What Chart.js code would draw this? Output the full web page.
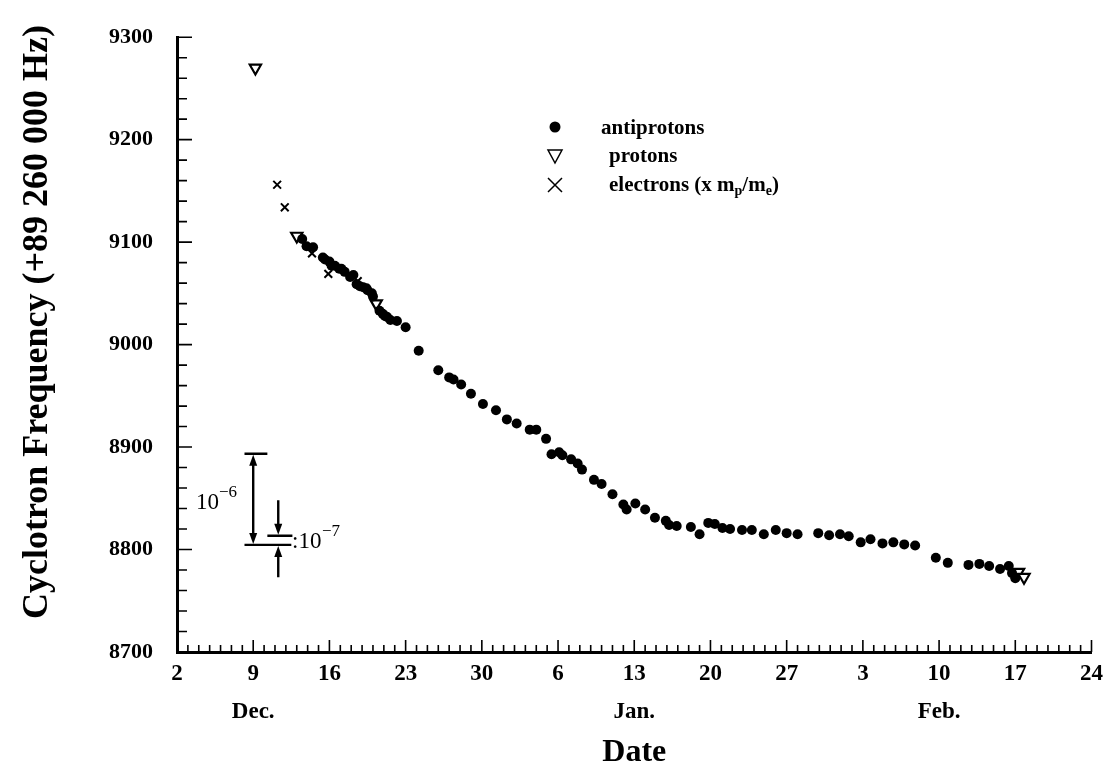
<!DOCTYPE html>
<html>
<head>
<meta charset="utf-8">
<script src="https://cdn.jsdelivr.net/npm/chart.js@4.4.0/dist/chart.umd.min.js"></script>
<style>
  html, body { margin: 0; padding: 0; background: #fff; }
</style>
</head>
<body>
<canvas id="chart" width="1111" height="776"></canvas>
<script>
const SERIF = "'Liberation Serif', 'DejaVu Serif', serif";

// x = days counted from Dec. 2, y = frequency - 89 260 000 Hz
const antiDays = [11.5, 11.9, 12.5, 13.4, 13.6, 14.0, 14.2, 14.5, 14.9, 15.1, 15.4, 15.9, 16.2, 16.5, 16.8, 17.1, 17.4, 17.5, 17.9, 18.0,
  18.6, 18.9, 19.1, 19.3, 19.6, 20.2, 21.0, 22.2, 24.0, 25.0, 25.4, 26.1, 27.0, 28.1, 29.3, 30.3, 31.2, 32.4, 33.0, 33.9,
  34.4, 35.1, 35.4, 36.2, 36.8, 37.2, 38.3, 39.0, 40.0, 41.0, 41.3, 42.1, 43.0, 43.9, 44.9, 45.2, 45.9, 47.2, 48.0, 48.8,
  49.4, 50.1, 50.8, 51.9, 52.8, 53.9, 55.0, 56.0, 57.0, 58.9, 59.9, 60.9, 61.7, 62.8, 63.7, 64.8, 65.8, 66.8, 67.8, 69.7,
  70.8, 72.7, 73.7, 74.6, 75.6, 76.4, 76.7, 77.0];
const antiFreq = [9103, 9096, 9095, 9085, 9083, 9081, 9077, 9077, 9074, 9074, 9071, 9066, 9068, 9059, 9057, 9056, 9055, 9053, 9050, 9047,
  9033, 9030, 9028, 9027, 9024, 9023, 9017, 8994, 8975, 8968, 8966, 8961, 8952, 8942, 8936, 8927, 8923, 8917, 8917, 8908,
  8893, 8895, 8892, 8888, 8884, 8878, 8868, 8864, 8854, 8844, 8839, 8845, 8839, 8831, 8828, 8824, 8823, 8822, 8815, 8826,
  8825, 8821, 8820, 8819, 8819, 8815, 8819, 8816, 8815, 8816, 8814, 8815, 8813, 8807, 8810, 8806, 8807, 8805, 8804, 8792,
  8787, 8785, 8786, 8784, 8781, 8784, 8777, 8772];

const protonDays = [7.2, 11.0, 18.3, 77.3, 77.8];
const protonFreq = [9270, 9106, 9040, 8778, 8773];

const electronDays = [9.2, 9.9, 12.4, 13.9, 16.6];
const electronFreq = [9156, 9134, 9089, 9069, 9062];

const weekLabels = ['2', '9', '16', '23', '30', '6', '13', '20', '27', '3', '10', '17', '24'];
const monthNames = ['Dec.', 'Jan.', 'Feb.'];
const monthDays = [7, 42, 70];

// 10^-6 and 10^-7 scale marks (in Hz above the offset)
const ppm = [8804.5, 8893.5];
const ppb = [8804.5, 8813.4];

const yTitle = 'Cyclotron Frequency (+89 260 000 Hz)';

const toPts = (xs, ys) => xs.map((x, i) => ({ x, y: ys[i] }));

// ticks pointing into the plot, month names, y title
const axisExtras = {
  id: 'axisExtras',
  afterDraw(chart) {
    const { ctx, chartArea, scales: { x, y } } = chart;
    ctx.save();
    ctx.strokeStyle = '#000';
    ctx.lineWidth = 1.6;
    ctx.beginPath();
    for (let d = 0; d <= 84; d++) {
      const px = x.getPixelForValue(d);
      const len = d % 7 === 0 ? 12 : 7;
      ctx.moveTo(px, chartArea.bottom);
      ctx.lineTo(px, chartArea.bottom - len);
    }
    for (let v = 8700; v <= 9300; v += 20) {
      const py = y.getPixelForValue(v);
      const len = v % 100 === 0 ? 15 : 10;
      ctx.moveTo(chartArea.left, py);
      ctx.lineTo(chartArea.left + len, py);
    }
    ctx.stroke();

    ctx.fillStyle = '#000';
    ctx.font = 'bold 23px ' + SERIF;
    ctx.textAlign = 'center';
    ctx.textBaseline = 'middle';
    monthNames.forEach((m, i) => ctx.fillText(m, x.getPixelForValue(monthDays[i]), 712));

    ctx.translate(38, 322);
    ctx.rotate(-Math.PI / 2);
    ctx.font = 'bold 36px ' + SERIF;
    ctx.fillText(yTitle, 0, 0);
    ctx.restore();
  }
};

function arrowHead(ctx, x, y, dir) {
  ctx.beginPath();
  ctx.moveTo(x, y);
  ctx.lineTo(x - 4, y - dir * 11);
  ctx.lineTo(x + 4, y - dir * 11);
  ctx.closePath();
  ctx.fill();
}

// precision scale bar
const scaleMarks = {
  id: 'scaleMarks',
  afterDraw(chart) {
    const { ctx, scales: { x, y } } = chart;
    ctx.save();
    ctx.strokeStyle = '#000';
    ctx.fillStyle = '#000';
    ctx.lineWidth = 2.4;
    const bx = x.getPixelForValue(7.0);
    const top = y.getPixelForValue(ppm[1]);
    const bot = y.getPixelForValue(ppm[0]);
    ctx.beginPath();
    ctx.moveTo(x.getPixelForValue(6.2), top); ctx.lineTo(x.getPixelForValue(8.3), top);
    ctx.moveTo(x.getPixelForValue(6.2), bot); ctx.lineTo(x.getPixelForValue(10.5), bot);
    ctx.moveTo(bx, top + 8); ctx.lineTo(bx, bot - 8);
    const up = y.getPixelForValue(ppb[1]);
    ctx.moveTo(x.getPixelForValue(8.3), up); ctx.lineTo(x.getPixelForValue(10.6), up);
    const ax = x.getPixelForValue(9.3);
    ctx.moveTo(ax, y.getPixelForValue(8848)); ctx.lineTo(ax, up - 8);
    ctx.moveTo(ax, y.getPixelForValue(8773)); ctx.lineTo(ax, bot + 8);
    ctx.stroke();
    arrowHead(ctx, bx, top + 1, -1);
    arrowHead(ctx, bx, bot - 1, 1);
    arrowHead(ctx, ax, up - 1, 1);
    arrowHead(ctx, ax, bot + 1, -1);

    ctx.textBaseline = 'alphabetic';
    ctx.textAlign = 'left';
    ctx.font = '23px ' + SERIF;
    ctx.fillText('10', 196, 509);
    ctx.font = '17px ' + SERIF;
    ctx.fillText('\u22126', 219, 497);
    ctx.font = '23px ' + SERIF;
    ctx.fillText(':10', 292, 548);
    ctx.font = '17px ' + SERIF;
    ctx.fillText('\u22127', 322, 536);
    ctx.restore();
  }
};

// hand placed legend
const legendBox = {
  id: 'legendBox',
  afterDraw(chart) {
    const { ctx } = chart;
    ctx.save();
    ctx.fillStyle = '#000';
    ctx.strokeStyle = '#000';
    ctx.lineWidth = 1.5;
    ctx.beginPath();
    ctx.arc(555, 127, 5.5, 0, Math.PI * 2);
    ctx.fill();
    ctx.beginPath();
    ctx.moveTo(548, 150); ctx.lineTo(562, 150); ctx.lineTo(555, 163); ctx.closePath();
    ctx.stroke();
    ctx.beginPath();
    ctx.moveTo(548, 178); ctx.lineTo(562, 192);
    ctx.moveTo(562, 178); ctx.lineTo(548, 192);
    ctx.stroke();

    ctx.font = 'bold 21px ' + SERIF;
    ctx.textBaseline = 'alphabetic';
    ctx.textAlign = 'left';
    ctx.fillText('antiprotons', 601, 134);
    ctx.fillText('protons', 609, 162);
    let tx = 609;
    const part = (t, size, dy) => {
      ctx.font = 'bold ' + size + 'px ' + SERIF;
      ctx.fillText(t, tx, 191 + dy);
      tx += ctx.measureText(t).width;
    };
    part('electrons (x m', 21, 0);
    part('p', 14, 4);
    part('/m', 21, 0);
    part('e', 14, 4);
    part(')', 21, 0);
    ctx.restore();
  }
};

new Chart(document.getElementById('chart'), {
  type: 'scatter',
  data: {
    datasets: [
      {
        label: 'antiprotons',
        data: toPts(antiDays, antiFreq),
        pointStyle: 'circle',
        pointRadius: 5,
        backgroundColor: '#000',
        borderColor: '#000',
        borderWidth: 0
      },
      {
        label: 'protons',
        data: toPts(protonDays, protonFreq),
        pointStyle: 'triangle',
        rotation: 180,
        pointRadius: 6.5,
        backgroundColor: '#fff',
        borderColor: '#000',
        borderWidth: 2.2
      },
      {
        label: 'electrons (x mp/me)',
        data: toPts(electronDays, electronFreq),
        pointStyle: 'crossRot',
        pointRadius: 5.5,
        borderColor: '#000',
        borderWidth: 2
      }
    ]
  },
  options: {
    responsive: false,
    animation: false,
    layout: { padding: { top: 30, right: 18, left: 0, bottom: 0 } },
    plugins: {
      legend: { display: false },
      tooltip: { enabled: false }
    },
    scales: {
      x: {
        type: 'linear',
        min: 0,
        max: 84,
        afterFit: (s) => { s.height = 124; },
        grid: { display: false, drawTicks: false },
        border: { display: true, color: '#000', width: 3 },
        ticks: {
          stepSize: 7,
          autoSkip: false,
          padding: 8,
          color: '#000',
          font: { family: SERIF, size: 23, weight: 'bold' },
          callback: (v) => weekLabels[Math.round(v / 7)]
        },
        title: {
          display: true,
          text: 'Date',
          color: '#000',
          font: { family: SERIF, size: 32, weight: 'bold', lineHeight: 1.2 },
          padding: { top: 0, bottom: 4 }
        }
      },
      y: {
        min: 8700,
        max: 9300,
        afterFit: (s) => { s.width = 177; },
        grid: { display: false, drawTicks: false },
        border: { display: true, color: '#000', width: 3 },
        ticks: {
          stepSize: 100,
          padding: 24,
          color: '#000',
          font: { family: SERIF, size: 22, weight: 'bold' },
          callback: (v) => String(v)
        }
      }
    }
  },
  plugins: [axisExtras, scaleMarks, legendBox]
});
</script>
</body>
</html>
